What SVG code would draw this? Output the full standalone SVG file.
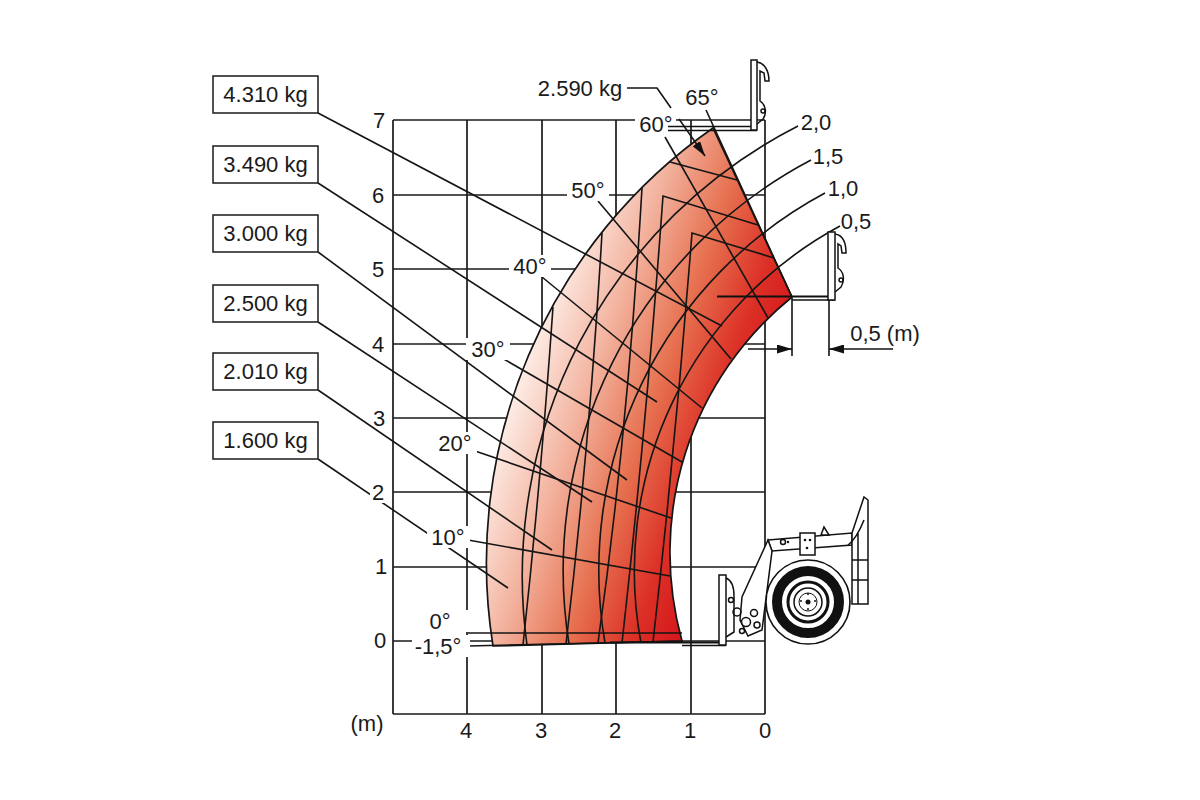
<svg xmlns="http://www.w3.org/2000/svg" width="1200" height="800" viewBox="0 0 1200 800">
<style>
.g{stroke:#1a1a1a;stroke-width:1.7;fill:none}
.l{stroke:#151515;stroke-width:1.6;fill:none}
.t{font-family:"Liberation Sans",Arial,sans-serif;font-size:22px;fill:#1a1a1a;text-anchor:middle}
.bx{fill:#fff;stroke:#1a1a1a;stroke-width:1.5}
.ko{fill:#fff}
.m{stroke:#111;stroke-width:1.5;fill:#fff}
.mn{stroke:#111;stroke-width:1.5;fill:none}
</style>
<defs>
<linearGradient id="red" gradientUnits="userSpaceOnUse" x1="490" y1="420" x2="770" y2="520">
<stop offset="0" stop-color="#fff8f4"/>
<stop offset="0.27" stop-color="#f3b4a0"/>
<stop offset="0.5" stop-color="#e6704f"/>
<stop offset="0.7" stop-color="#dc3026"/>
<stop offset="0.9" stop-color="#d3101a"/>
<stop offset="1" stop-color="#d00a15"/>
</linearGradient>
<marker id="arr" markerUnits="userSpaceOnUse" markerWidth="15" markerHeight="9" refX="15" refY="4.5" orient="auto">
<path d="M0 0 L15 4.5 L0 9 Z" fill="#111"/>
</marker>
</defs>
<rect width="1200" height="800" fill="#fff"/>

<g id="grid" class="g">
<path d="M393 120V714M467 120V714M542 120V714M616 120V714M691 120V714M765 120V714"/>
<path d="M393 120H765M393 195H765M393 269H765M393 344H765M393 418H765M393 492H765M393 567H765M393 641H765M393 714H765"/>
</g>

<g id="envelope">
<path d="M493 646 A530 530 0 0 1 713 128 L792 297 A329 329 0 0 0 682 641 Z" fill="url(#red)" stroke="#151515" stroke-width="1.7"/>
</g>

<g id="connectors" class="l">
<path d="M798 126 A505 505 0 0 0 527 645"/>
<path d="M811 160 A464 464 0 0 0 569 644"/>
<path d="M825 193 A428 428 0 0 0 605 643"/>
<path d="M840 226 A392 392 0 0 0 641 643"/>
<path d="M774 258 L692 233 Q676 440 653 642"/>
<path d="M758 225 L663 196 Q646 430 622 643"/>
<path d="M670 162 L737 180"/>
<path d="M642 188 Q628 430 598 643"/>
<path d="M602 233 Q590 440 566 644"/>
<path d="M553 307 Q541 480 523 645"/>
<path d="M706 110 L792 297"/>
<path d="M665 137 L768 318"/>
<path d="M598 201 L731 359"/>
<path d="M542 277 L702 408"/>
<path d="M502 358 L682 462"/>
<path d="M475 451 L671 518"/>
<path d="M468 540 L670 576"/>
<path d="M468 633 L682 633"/>
<path d="M468 646 L683 641"/>
<path d="M318 113 L722 326"/>
<path d="M318 183 L657 402"/>
<path d="M318 252 L627 480"/>
<path d="M318 322 L592 502"/>
<path d="M318 390 L552 550"/>
<path d="M318 459 L508 588"/>
<path d="M627 88 L657 88 L671 108"/>
<path d="M679 119 L705 156" marker-end="url(#arr)"/>
<path d="M792 298 V356 M829 298 V356"/>
<path d="M748 349 H792" marker-end="url(#arr)"/>
<path d="M893 349 H829" marker-end="url(#arr)"/>
</g>

<g id="axis-labels" class="t">
<rect class="ko" x="370" y="481" width="17" height="22"/>
<text x="379" y="128">7</text>
<text x="378" y="203">6</text>
<text x="378" y="277">5</text>
<text x="378" y="352">4</text>
<text x="379" y="426">3</text>
<text x="378" y="500">2</text>
<text x="381" y="574">1</text>
<text x="380" y="648">0</text>
<text x="466" y="738">4</text>
<text x="541" y="738">3</text>
<text x="615" y="738">2</text>
<text x="690" y="738">1</text>
<text x="765" y="738">0</text>
<text x="367" y="731">(m)</text>
</g>

<g id="angle-65" class="t"><text x="702" y="105">65°</text></g>
<g id="angle-60" class="t"><rect class="ko" x="635" y="112" width="41" height="23"/><text x="656" y="132">60°</text></g>
<g id="angle-50" class="t"><rect class="ko" x="567" y="179" width="42" height="22"/><text x="588" y="198">50°</text></g>
<g id="angle-40" class="t"><rect class="ko" x="509" y="255" width="42" height="22"/><text x="530" y="274">40°</text></g>
<g id="angle-30" class="t"><rect class="ko" x="466" y="338" width="44" height="22"/><text x="488" y="357">30°</text></g>
<g id="angle-20" class="t"><rect class="ko" x="434" y="432" width="43" height="22"/><text x="455" y="451">20°</text></g>
<g id="angle-10" class="t"><rect class="ko" x="427" y="526" width="43" height="22"/><text x="448" y="545">10°</text></g>
<g id="angle-0" class="t"><rect class="ko" x="425" y="610" width="45" height="22"/><text x="440" y="629">0°</text></g>
<g id="angle-m15" class="t"><rect class="ko" x="412" y="635" width="58" height="22"/><text x="438" y="654">-1,5°</text></g>

<g id="ext-20" class="t"><text x="816" y="130">2,0</text></g>
<g id="ext-15" class="t"><text x="828" y="164">1,5</text></g>
<g id="ext-10" class="t"><text x="843" y="196">1,0</text></g>
<g id="ext-05" class="t"><text x="856" y="229">0,5</text></g>
<g id="dim-label" class="t"><text x="885" y="341">0,5 (m)</text></g>
<g id="kg-2590" class="t"><text x="580" y="96">2.590 kg</text></g>

<g id="kg-4310"><rect class="bx" x="213" y="76" width="105" height="37"/><text class="t" x="265.5" y="102">4.310 kg</text></g>
<g id="kg-3490"><rect class="bx" x="213" y="146" width="105" height="37"/><text class="t" x="265.5" y="172">3.490 kg</text></g>
<g id="kg-3000"><rect class="bx" x="213" y="215" width="105" height="37"/><text class="t" x="265.5" y="241">3.000 kg</text></g>
<g id="kg-2500"><rect class="bx" x="213" y="285" width="105" height="37"/><text class="t" x="265.5" y="311">2.500 kg</text></g>
<g id="kg-2010"><rect class="bx" x="213" y="353" width="105" height="37"/><text class="t" x="265.5" y="379">2.010 kg</text></g>
<g id="kg-1600"><rect class="bx" x="213" y="422" width="105" height="37"/><text class="t" x="265.5" y="448">1.600 kg</text></g>

<g id="attach-top">
<path class="mn" d="M668 126.5 H752 M668 130.5 H757"/>
<rect class="m" x="751" y="60" width="6" height="70"/>
<path class="mn" d="M757 62 C764 63 769 70 769 81 L765 81 L764 73 L760 71 L760 101 C766 105 767 113 763 119 L757 124"/>
<circle class="mn" cx="763" cy="111" r="2"/>
</g>

<g id="attach-mid">
<path d="M717 296.5 H829" stroke="#111" stroke-width="2" fill="none"/>
<path class="mn" d="M792 300 H835"/>
<rect class="m" x="828" y="232" width="7" height="68"/>
<path class="mn" d="M835 234 C842 235 846 242 846 253 L842 253 L841 246 L838 244 L838 268 C844 272 845 280 841 287 L835 292"/>
<circle class="mn" cx="841" cy="280" r="2"/>
</g>

<g id="attach-bot">
<path d="M610 642.5 H722" stroke="#111" stroke-width="2" fill="none"/>
<path class="mn" d="M682 645.5 H726"/>
<rect class="m" x="719" y="575" width="7" height="70"/>
<path class="mn" d="M726 578 C731 580 734 586 734 596 L734 632 L726 637"/>
<circle class="mn" cx="731" cy="600" r="2.5"/>
</g>

<g id="machine">
<path class="m" d="M768 540 L852 533 L852 545 L772 551 Z"/>
<path class="m" d="M768 540 L742 597 L740 620 L748 636 L762 630 L772 551 Z"/>
<rect class="m" x="800" y="533" width="15" height="22"/>
<circle cx="805" cy="540" r="1.3" fill="#111"/><circle cx="810" cy="540" r="1.3" fill="#111"/><circle cx="807" cy="548" r="1.3" fill="#111"/>
<path class="m" d="M821 535 L824 527 L829 535 Z"/>
<circle class="mn" cx="783" cy="542" r="2.5"/><circle cx="788" cy="542" r="1.2" fill="#111"/>
<path class="m" d="M852 533 L864 497 L868 500 L868 604 L852 604 Z"/>
<path class="mn" d="M858 533 V604 M852 560 H868 M852 580 H868 M848 545 C855 540 860 530 864 520"/>
<circle class="mn" cx="737" cy="612" r="4"/><circle class="mn" cx="746" cy="622" r="4.5"/><circle class="mn" cx="754" cy="613" r="3.5"/><circle class="mn" cx="757" cy="625" r="3"/><circle class="mn" cx="742" cy="631" r="2.5"/>
<circle cx="808" cy="602" r="42" fill="#fff" stroke="#111" stroke-width="1.6"/>
<circle cx="808" cy="602" r="31" fill="none" stroke="#111" stroke-width="10"/>
<circle cx="808" cy="602" r="20" fill="none" stroke="#111" stroke-width="3"/>
<circle cx="808" cy="602" r="14" fill="#fff" stroke="#111" stroke-width="1.5"/>
<circle cx="808" cy="602" r="9" fill="none" stroke="#111" stroke-width="1"/>
<circle cx="808" cy="602" r="2.5" fill="#111"/>
<circle cx="808" cy="594" r="1" fill="#111"/><circle cx="815" cy="601" r="1" fill="#111"/><circle cx="808" cy="609" r="1" fill="#111"/><circle cx="801" cy="601" r="1" fill="#111"/>
</g>
</svg>
